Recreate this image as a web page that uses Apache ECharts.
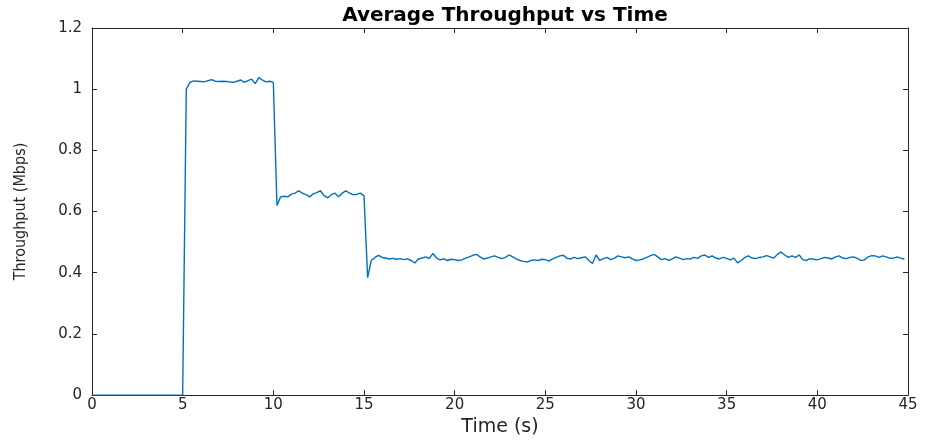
<!DOCTYPE html>
<html>
<head>
<meta charset="utf-8">
<script src="https://cdn.jsdelivr.net/npm/echarts@6/dist/echarts.min.js"></script>
<style>
  html, body { margin: 0; padding: 0; background: #fff; }
  #chart { width: 928px; height: 442px; }
</style>
</head>
<body>
<div id="chart"></div>
<script>
// sample spacing of the trace, in seconds
const dt = 0.2;

// throughput (Mbps), one row = 2 s (10 samples)
const throughput = [
  0, 0, 0, 0, 0, 0, 0, 0, 0, 0,
  0, 0, 0, 0, 0, 0, 0, 0, 0, 0,
  0, 0, 0, 0, 0, 0, 1.0, 1.022, 1.027, 1.026,
  1.025, 1.024, 1.028, 1.031, 1.026, 1.025, 1.026, 1.025, 1.024, 1.022,
  1.026, 1.03, 1.022, 1.028, 1.033, 1.018, 1.038, 1.03, 1.024, 1.026,
  1.022, 0.62, 0.648, 0.65, 0.648, 0.657, 0.66, 0.668, 0.66, 0.655,
  0.648, 0.658, 0.662, 0.668, 0.652, 0.645, 0.655, 0.66, 0.648, 0.66,
  0.668, 0.66, 0.655, 0.656, 0.66, 0.652, 0.384, 0.44, 0.45, 0.457,
  0.45, 0.448, 0.445, 0.447, 0.444, 0.446, 0.443, 0.445, 0.44, 0.432,
  0.445, 0.448, 0.452, 0.446, 0.463, 0.448, 0.442, 0.445, 0.44, 0.444,
  0.443, 0.44, 0.442, 0.448, 0.452, 0.457, 0.46, 0.452, 0.445, 0.448,
  0.452, 0.455, 0.45, 0.446, 0.45, 0.458, 0.452, 0.445, 0.44, 0.437,
  0.435, 0.44, 0.442, 0.44, 0.444, 0.443, 0.438, 0.445, 0.45, 0.455,
  0.457, 0.447, 0.445, 0.45, 0.446, 0.449, 0.452, 0.44, 0.43, 0.458,
  0.44, 0.446, 0.45, 0.443, 0.447, 0.455, 0.452, 0.449, 0.452, 0.445,
  0.44, 0.442, 0.445, 0.45, 0.456, 0.46, 0.452, 0.443, 0.446, 0.44,
  0.445, 0.452, 0.448, 0.443, 0.446, 0.445, 0.45, 0.447, 0.455, 0.458,
  0.45, 0.455, 0.448, 0.445, 0.45, 0.447, 0.442, 0.448, 0.432, 0.44,
  0.45, 0.455, 0.448, 0.446, 0.45, 0.452, 0.456, 0.452, 0.448, 0.46,
  0.468, 0.458, 0.45, 0.455, 0.45, 0.458, 0.443, 0.44, 0.446, 0.444,
  0.442, 0.446, 0.45, 0.448, 0.445, 0.452, 0.455, 0.448, 0.446, 0.45,
  0.452, 0.447, 0.44, 0.442, 0.452, 0.456, 0.455, 0.45, 0.455, 0.452,
  0.447, 0.448, 0.452, 0.448, 0.444
];

const xTicks = { min: 0, max: 45, interval: 5 };
const yTicks = { min: 0, max: 1.2, interval: 0.2 };

const points = throughput.map((v, i) => [+(i * dt).toFixed(1), v]);

// the picture is stretched sideways, so the wider DejaVu face fits its text better
const wide = 'DejaVu Sans, Verdana, sans-serif';
const narrow = 'Liberation Sans Narrow, DejaVu Sans Condensed, sans-serif';
const axisColor = '#262626';

function frameAxis(extra) {
  return Object.assign({
    type: 'value',
    axisLine: { show: true, onZero: false, lineStyle: { color: axisColor, width: 1 } },
    axisTick: { show: true, inside: true, length: 5, lineStyle: { color: axisColor } },
    splitLine: { show: false },
    axisLabel: { color: axisColor, fontFamily: wide, fontSize: 15 },
  }, extra);
}

const chart = echarts.init(document.getElementById('chart'));
chart.setOption({
  animation: false,
  title: {
    text: 'Average Throughput vs Time',
    left: 500,
    top: 1,
    textAlign: 'center',
    textStyle: { fontFamily: wide, fontSize: 20, fontWeight: 'bold', color: '#000' },
  },
  grid: { left: 92, right: 20, top: 28, bottom: 41 },
  xAxis: [
    frameAxis(Object.assign({}, xTicks, {
      name: 'Time (s)',
      nameLocation: 'middle',
      nameGap: 22,
      nameTextStyle: { fontFamily: wide, fontSize: 19, color: axisColor },
      axisLabel: { color: axisColor, fontFamily: wide, fontSize: 15, margin: 3 },
    })),
    frameAxis(Object.assign({}, xTicks, { position: 'top', axisLabel: { show: false } })),
  ],
  yAxis: [
    frameAxis(Object.assign({}, yTicks, {
      name: 'Throughput (Mbps)',
      nameLocation: 'middle',
      nameGap: 63,
      nameTextStyle: { fontFamily: narrow, fontSize: 16, color: axisColor },
      axisLabel: { color: axisColor, fontFamily: wide, fontSize: 15, margin: 10 },
    })),
    frameAxis(Object.assign({}, yTicks, { position: 'right', axisLabel: { show: false } })),
  ],
  series: [{
    type: 'line',
    data: points,
    showSymbol: false,
    lineStyle: { color: '#0072BD', width: 1.4 },
    xAxisIndex: 0,
    yAxisIndex: 0,
  }],
});
</script>
</body>
</html>
